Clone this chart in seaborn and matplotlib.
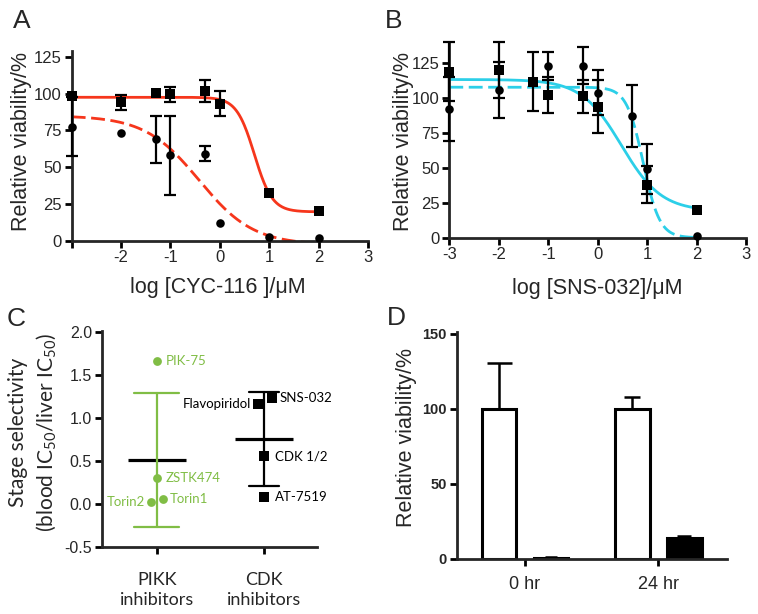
import numpy as np
import pandas as pd
import matplotlib
matplotlib.use("Agg")
import matplotlib.pyplot as plt
from matplotlib.ticker import FormatStrFormatter
import seaborn as sns

# ---------------- data ----------------
# Panel A: CYC-116 dose response
a_sq_x = [-3, -2, -1.3, -1, -0.3, 0, 1, 2]
a_sq_y = [98.3, 94.0, 100.5, 99.5, 101.5, 93.0, 32.5, 20.0]
a_sq_err = [0, 5, 0, 5, 7.5, 8.5, 0, 0]
a_ci_x = [-3, -2, -1.3, -1, -0.3, 0, 1, 2]
a_ci_y = [77.5, 73.5, 69.0, 58.0, 59.0, 12.0, 2.5, 2.0]
a_ci_err = [20, 0, 16, 27, 5, 0, 0, 0]
# fitted curves: top, bottom, logIC50, hill slope
a_fit_solid = [97.5, 19.5, 0.70, 2.4]
a_fit_dashed = [85.0, -3.0, -0.42, 0.79]

# Panel B: SNS-032 dose response
b_sq_x = [-3, -2, -1.3, -1, -0.3, 0, 1, 2]
b_sq_y = [118.5, 119.5, 111.5, 102.0, 101.0, 93.5, 38.0, 20.0]
b_sq_err = [21, 20, 21, 13, 12, 19, 13, 0]
b_ci_x = [-3, -2, -1, -0.3, 0, 0.7, 1, 2]
b_ci_y = [92.0, 105.5, 122.5, 123.0, 103.5, 87.0, 49.0, 1.5]
b_ci_err = [23, 20, 10, 13, 16, 22, 18, 0]
b_fit_solid = [113.0, 19.0, 0.48, 1.07]
b_fit_dashed = [107.5, 0.0, 0.92, 2.6]

# Panel C: stage selectivity
c_groups = ["PIKK\ninhibitors", "CDK\ninhibitors"]
pikk_names = ["PIK-75", "ZSTK474", "Torin2", "Torin1"]
pikk_vals = [1.667, 0.30, 0.027, 0.06]
cdk_names = ["Flavopiridol", "SNS-032", "CDK 1/2", "AT-7519"]
cdk_vals = [1.163, 1.229, 0.554, 0.081]

# Panel D: relative viability bars
d_times = ["0 hr", "24 hr"]
d_white = [100.0, 100.0]
d_white_err = [30.5, 7.7]
d_black = [0.8, 14.0]
d_black_err = [0.3, 1.4]

# ---------------- style ----------------
sns.set_style("ticks")
plt.rcParams["font.family"] = ["Liberation Sans", "DejaVu Sans"]
plt.rcParams["axes.unicode_minus"] = False

RED = "#F6361C"
CYAN = "#2CCFE8"
GREEN = "#80BD45"
SPW = 2.0
CAL = "Lato"

fig = plt.figure(figsize=(7.58, 6.14), dpi=100)
W, H = 758.0, 614.0


def add_ax(left, right, top, bottom):
    return fig.add_axes([left / W, 1 - bottom / H, (right - left) / W, (bottom - top) / H])


def hill(params, xs):
    top, bottom, c, h = params
    return bottom + (top - bottom) / (1 + 10 ** ((xs - c) * h))


def style_axis(ax, labelsize=12):
    sns.despine(ax=ax)
    for s in ("left", "bottom"):
        ax.spines[s].set_linewidth(SPW)
        ax.spines[s].set_capstyle("projecting")
    ax.tick_params(width=SPW, length=5, labelsize=labelsize, pad=2, color="black")


def dose_panel(ax, sq_x, sq_y, sq_err, ci_x, ci_y, ci_err, fit_s, fit_d, color):
    xs = np.linspace(-3, 2, 300)
    sns.lineplot(x=xs, y=hill(fit_s, xs), ax=ax, color=color, linewidth=2.0,
                 errorbar=None, sort=False, zorder=2)
    sns.lineplot(x=xs, y=hill(fit_d, xs), ax=ax, color=color, linewidth=2.0,
                 errorbar=None, sort=False, linestyle=(0, (5, 2)), zorder=2)
    for x, y, e in ((sq_x, sq_y, sq_err), (ci_x, ci_y, ci_err)):
        x = np.array(x, float); y = np.array(y, float); e = np.array(e, float)
        m = e > 0
        ax.errorbar(x[m], y[m], yerr=e[m], fmt="none", ecolor="black",
                    elinewidth=1.6, capsize=4.5, capthick=1.6, clip_on=False, zorder=3)
    sns.scatterplot(x=sq_x, y=sq_y, ax=ax, marker="s", color="black", s=48,
                    linewidth=0, clip_on=False, zorder=4)
    sns.scatterplot(x=ci_x, y=ci_y, ax=ax, marker="o", color="black", s=38,
                    linewidth=0, clip_on=False, zorder=4)
    ax.set_xlim(-3, 3)
    ax.set_xticks([-3, -2, -1, 0, 1, 2, 3])
    ax.set_yticks([0, 25, 50, 75, 100, 125])
    style_axis(ax, labelsize=12)


# ---------------- Panel A ----------------
axA = add_ax(71.7, 368, 51, 240.5)
dose_panel(axA, a_sq_x, a_sq_y, a_sq_err, a_ci_x, a_ci_y, a_ci_err,
           a_fit_solid, a_fit_dashed, RED)
axA.set_ylim(0, 129)
axA.set_xticklabels(["", "-2", "-1", "0", "1", "2", "3"])
axA.set_ylabel("Relative viability/%", fontsize=15.5)
axA.set_xlabel("log [CYC-116 ]/\u03bcM", fontsize=15.5)
axA.yaxis.set_label_coords(-0.135, 0.52)
axA.xaxis.set_label_coords(0.494, -0.19)

# ---------------- Panel B ----------------
axB = add_ax(449.3, 746, 41.7, 237.7)
dose_panel(axB, b_sq_x, b_sq_y, b_sq_err, b_ci_x, b_ci_y, b_ci_err,
           b_fit_solid, b_fit_dashed, CYAN)
axB.set_ylim(0, 140)
axB.set_xticklabels(["-3", "-2", "-1", "0", "1", "2", "3"])
axB.set_ylabel("Relative viability/%", fontsize=15.5)
axB.set_xlabel("log [SNS-032]/\u03bcM", fontsize=15.5)
axB.yaxis.set_label_coords(-0.118, 0.49)
axB.xaxis.set_label_coords(0.5, -0.205)

# ---------------- Panel C ----------------
axC = add_ax(101.7, 317, 331, 547.3)
dfC = pd.DataFrame({
    "pos": [0] * len(pikk_vals) + [1] * len(cdk_vals),
    "val": pikk_vals + cdk_vals,
})
for gi, (ecol, cap) in enumerate(((GREEN, 0.42), ("black", 0.28))):
    sub = dfC[dfC["pos"] == gi]
    sns.pointplot(data=sub, x="pos", y="val", native_scale=True, errorbar="sd",
                  capsize=cap, markers="_", markersize=42, markeredgewidth=2.3,
                  linestyles="none", color="black",
                  err_kws={"color": ecol, "linewidth": 1.6}, ax=axC, zorder=3)

pikk_dx = [0.005, 0.0, -0.056, 0.062]
cdk_dx = [-0.059, 0.071, 0.0, 0.0]
sns.scatterplot(x=np.array(pikk_dx), y=pikk_vals, ax=axC, marker="o", color=GREEN,
                s=40, linewidth=0, zorder=4)
sns.scatterplot(x=1 + np.array(cdk_dx), y=cdk_vals, ax=axC, marker="s", color="black",
                s=46, linewidth=0, zorder=4)
pikk_off = [(8, "left"), (9, "left"), (-6, "right"), (6, "left")]
cdk_off = [(-7, "right"), (8, "left"), (11, "left"), (11, "left")]
for n, v, dx, (o, ha) in zip(pikk_names, pikk_vals, pikk_dx, pikk_off):
    axC.annotate(n, (dx, v), xytext=(o * 0.72, 0), textcoords="offset points",
                 ha=ha, va="center", fontsize=9.5, color=GREEN, family=CAL)
for n, v, dx, (o, ha) in zip(cdk_names, cdk_vals, cdk_dx, cdk_off):
    axC.annotate(n, (1 + dx, v), xytext=(o * 0.72, 0), textcoords="offset points",
                 ha=ha, va="center", fontsize=9.5, color="black", family=CAL)
axC.set_xlim(-0.513, 1.494)
axC.set_ylim(-0.5, 2.01)
axC.set_yticks([-0.5, 0.0, 0.5, 1.0, 1.5, 2.0])
axC.yaxis.set_major_formatter(FormatStrFormatter("%.1f"))
axC.set_xticks([0, 1])
axC.set_xticklabels(c_groups, family=CAL, fontsize=13, linespacing=1.25)
style_axis(axC, labelsize=11.5)
axC.tick_params(axis="x", labelsize=13, pad=13)
axC.set_xlabel("")
axC.set_ylabel("Stage selectivity\n(blood IC$_\\mathregular{50}$/liver IC$_\\mathregular{50}$)",
               family=CAL, fontsize=15, linespacing=1.35)
axC.yaxis.set_label_coords(-0.2, 0.53)

# ---------------- Panel D ----------------
axD = add_ax(456.7, 726.7, 332.3, 559)
dfD = pd.DataFrame({
    "time": d_times * 2,
    "cond": ["white"] * 2 + ["black"] * 2,
    "val": d_white + d_black,
})
sns.barplot(data=dfD, x="time", y="val", hue="cond", order=d_times,
            hue_order=["white", "black"], palette={"white": "white", "black": "black"},
            width=0.78, gap=0.333, edgecolor="black", linewidth=2.2,
            errorbar=None, legend=False, ax=axD, zorder=2)
bars = sorted(axD.patches, key=lambda p: p.get_x())
errs = [d_white_err[0], d_black_err[0], d_white_err[1], d_black_err[1]]
caps = [9, 4, 6, 5]
for p, e, cp in zip(bars, errs, caps):
    xc = p.get_x() + p.get_width() / 2
    top = p.get_height()
    axD.errorbar([xc], [top], yerr=[[0], [e]], fmt="none", ecolor="black",
                 elinewidth=1.8, capsize=cp, capthick=1.8, zorder=1)
axD.set_xlim(-0.512, 1.513)
axD.set_ylim(0, 151)
axD.set_yticks([0, 50, 100, 150])
style_axis(axD, labelsize=10.5)
axD.tick_params(axis="x", labelsize=13, pad=7)
for t in axD.get_yticklabels():
    t.set_fontweight("bold")
axD.set_xlabel("")
axD.set_ylabel("Relative viability/%", fontsize=15.5)
axD.yaxis.set_label_coords(-0.147, 0.534)

# ---------------- panel letters ----------------
for letter, x, y in (("A", 12.5, 28.3), ("B", 385, 28.3), ("C", 7, 325.5), ("D", 387, 325)):
    fig.text(x / W, 1 - y / H, letter, fontsize=19, va="baseline", ha="left")

fig.savefig("out.png", dpi=100)
